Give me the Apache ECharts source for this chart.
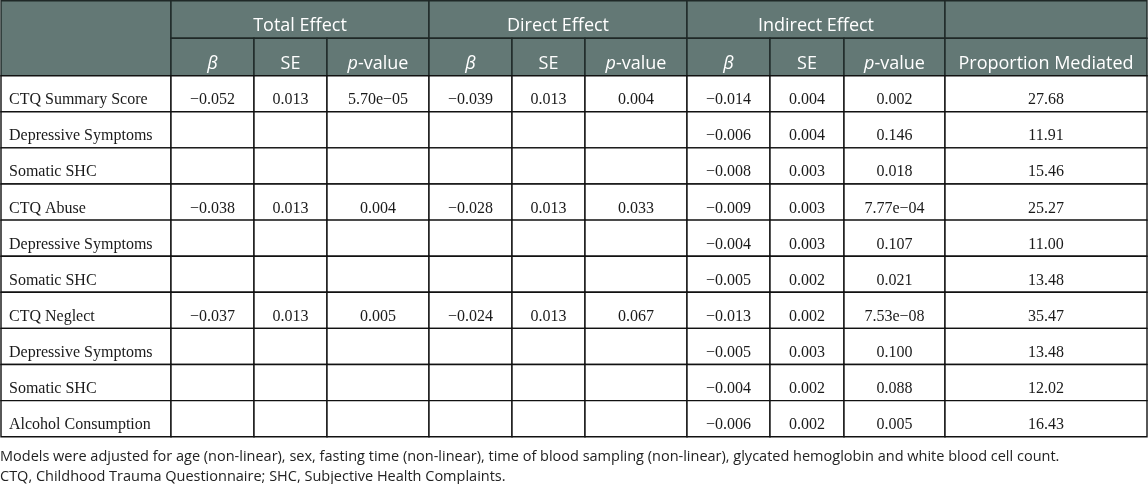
<!DOCTYPE html>
<html>
<head>
<meta charset="utf-8">
<title>Mediation table</title>
<script src="https://cdn.jsdelivr.net/npm/echarts@6/dist/echarts.min.js"></script>
<style>
html, body { margin: 0; padding: 0; background: #fff; }
#main { width: 1148px; height: 484px; }
</style>
</head>
<body>
<div id="main"></div>
<script>
var rowLabels = ['CTQ Summary Score', 'Depressive Symptoms', 'Somatic SHC', 'CTQ Abuse', 'Depressive Symptoms',
  'Somatic SHC', 'CTQ Neglect', 'Depressive Symptoms', 'Somatic SHC', 'Alcohol Consumption'];
var groupNames = ['Total Effect', 'Direct Effect', 'Indirect Effect'];
var subHeaders = ['{i|β}', 'SE', '{i|p}-value'];
var lastHeader = 'Proportion Mediated';

var totalBeta = [-0.052, null, null, -0.038, null, null, -0.037, null, null, null];
var totalSE = [0.013, null, null, 0.013, null, null, 0.013, null, null, null];
var totalP = [5.70e-5, null, null, 0.004, null, null, 0.005, null, null, null];
var directBeta = [-0.039, null, null, -0.028, null, null, -0.024, null, null, null];
var directSE = [0.013, null, null, 0.013, null, null, 0.013, null, null, null];
var directP = [0.004, null, null, 0.033, null, null, 0.067, null, null, null];
var indirectBeta = [-0.014, -0.006, -0.008, -0.009, -0.004, -0.005, -0.013, -0.005, -0.004, -0.006];
var indirectSE = [0.004, 0.004, 0.003, 0.003, 0.003, 0.002, 0.002, 0.003, 0.002, 0.002];
var indirectP = [0.002, 0.146, 0.018, 7.77e-4, 0.107, 0.021, 7.53e-8, 0.100, 0.088, 0.005];
var propMediated = [27.68, 11.91, 15.46, 25.27, 11.00, 13.48, 35.47, 13.48, 12.02, 16.43];

var notes = [
  'Models were adjusted for age (non-linear), sex, fasting time (non-linear), time of blood sampling (non-linear), glycated hemoglobin and white blood cell count.',
  'CTQ, Childhood Trauma Questionnaire; SHC, Subjective Health Complaints.'
];

// layout
var colEdges = [0, 170, 253, 326, 428, 511, 584, 686, 769, 843, 944, 1146];
var headH = 37.5;
var rowH = 36.1;
var tableH = 2 * headH + rowLabels.length * rowH;
var headColor = '#637875';
var serif = "'Liberation Serif', 'Times New Roman', serif";
var sans = "'Open Sans', 'Noto Sans', sans-serif";

function fmtNum(v, d) {
  if (v == null) return '';
  return v.toFixed(d).replace('-', '\u2212');
}

function fmtP(v) {
  if (v == null) return '';
  if (v >= 0.001) return v.toFixed(3);
  var s = v.toExponential(2).split('e');
  var e = Math.abs(+s[1]);
  return s[0] + 'e\u2212' + (e < 10 ? '0' + e : e);
}

var cells = [];
function addCell(x0, x1, y0, y1, text, kind, align) {
  cells.push({x0: x0, x1: x1, y0: y0, y1: y1, text: text, kind: kind, align: align || 'center'});
}

// header rows
addCell(colEdges[0], colEdges[1], 0, 2 * headH, '', 'head');
groupNames.forEach(function (g, gi) {
  var c = 1 + gi * 3;
  addCell(colEdges[c], colEdges[c + 3], 0, headH, g, 'head');
  subHeaders.forEach(function (s, si) {
    addCell(colEdges[c + si], colEdges[c + si + 1], headH, 2 * headH, s, 'head');
  });
});
addCell(colEdges[10], colEdges[11], 0, headH, '', 'head');
addCell(colEdges[10], colEdges[11], headH, 2 * headH, lastHeader, 'head');

// body rows
rowLabels.forEach(function (label, r) {
  var y0 = 2 * headH + r * rowH;
  var vals = [
    label,
    fmtNum(totalBeta[r], 3), fmtNum(totalSE[r], 3), fmtP(totalP[r]),
    fmtNum(directBeta[r], 3), fmtNum(directSE[r], 3), fmtP(directP[r]),
    fmtNum(indirectBeta[r], 3), fmtNum(indirectSE[r], 3), fmtP(indirectP[r]),
    fmtNum(propMediated[r], 2)
  ];
  vals.forEach(function (t, c) {
    addCell(colEdges[c], colEdges[c + 1], y0, y0 + rowH, t, 'body', c === 0 ? 'left' : 'center');
  });
});

function renderCell(params, api) {
  var c = cells[params.dataIndex];
  var p0 = api.coord([api.value(0), api.value(2)]);
  var p1 = api.coord([api.value(1), api.value(3)]);
  var w = p1[0] - p0[0];
  var h = p1[1] - p0[1];
  var head = c.kind === 'head';
  var fontSize = head ? 18 : 16;
  var family = head ? sans : serif;
  var color = head ? '#ffffff' : '#1a1a1a';
  return {
    type: 'group',
    children: [
      {
        type: 'rect',
        shape: {x: p0[0], y: p0[1], width: w, height: h},
        style: {fill: head ? headColor : '#ffffff', stroke: head ? '#1f2827' : '#111111', lineWidth: 1.4}
      },
      {
        type: 'text',
        x: c.align === 'left' ? p0[0] + 8 : p0[0] + w / 2,
        y: p0[1] + h * (head ? 0.68 : 0.675),
        style: {
          text: c.text,
          fill: color,
          fontSize: fontSize,
          fontFamily: family,
          align: c.align,
          verticalAlign: 'middle',
          rich: {
            i: {fontStyle: 'italic', fontSize: fontSize, fontFamily: family, fill: color}
          }
        }
      }
    ]
  };
}

var option = {
  animation: false,
  title: {
    text: notes.join('\n'),
    left: 0,
    top: tableH + 11,
    padding: 0,
    textStyle: {fontFamily: sans, fontSize: 14.5, fontWeight: 'normal', color: '#222', lineHeight: 20}
  },
  grid: {left: 1, top: 0.7, width: 1146, height: tableH, containLabel: false},
  xAxis: {type: 'value', min: 0, max: colEdges[colEdges.length - 1], show: false},
  yAxis: {type: 'value', min: 0, max: tableH, inverse: true, show: false},
  series: [{
    type: 'custom',
    clip: false,
    renderItem: renderCell,
    encode: {x: [0, 1], y: [2, 3]},
    data: cells.map(function (c) { return [c.x0, c.x1, c.y0, c.y1]; })
  }]
};

var myChart = echarts.init(document.getElementById('main'));
myChart.setOption(option);
</script>
</body>
</html>
